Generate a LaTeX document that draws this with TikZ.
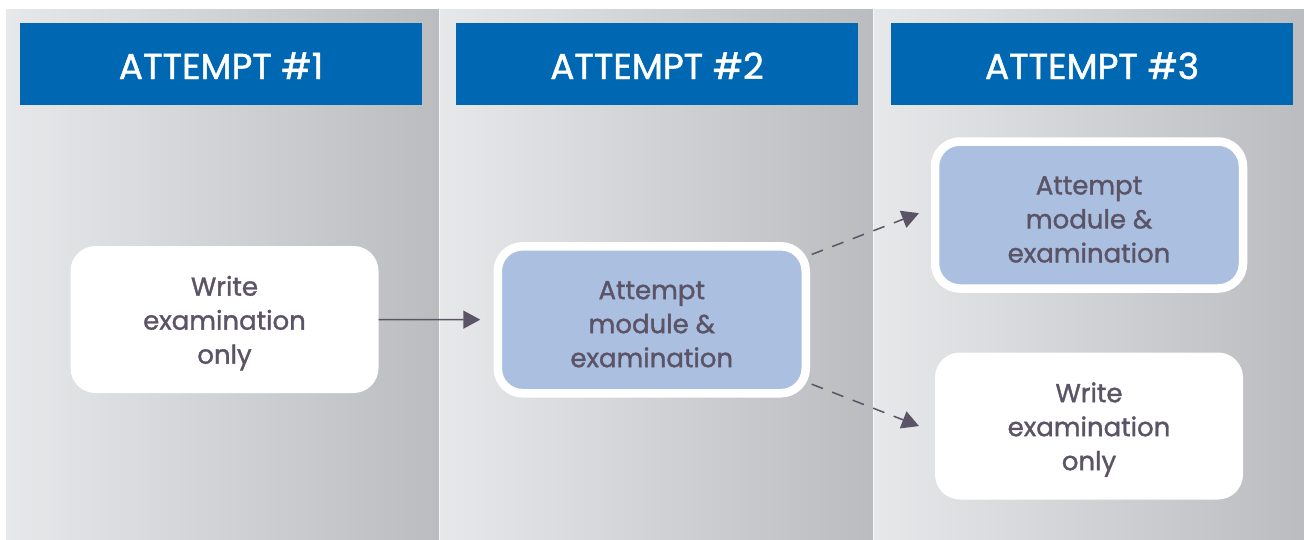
\documentclass[tikz,border=0pt]{standalone}
\usepackage{fontspec}
\setmainfont{Poppins}
\newfontfamily\medfont{Poppins}[FakeBold=1.3]
\usetikzlibrary{arrows.meta}
\definecolor{colLight}{HTML}{E7E8EA}
\definecolor{colDark}{HTML}{BBBCBF}
\definecolor{headBlue}{HTML}{0068B3}
\definecolor{boxBlue}{HTML}{ABBFE1}
\definecolor{inkGray}{HTML}{5B5466}
\newcommand\lift{\rule{0pt}{27pt}}
\tikzset{>={Triangle[length=17pt,width=18pt]}}
\tikzset{
  column/.style={left color=colLight, right color=colDark},
  header/.style={fill=headBlue, text=white, minimum width=402pt, minimum height=82pt,
    inner sep=0pt, text height=30pt, text depth=0pt, font=\medfont\fontsize{36}{40}\selectfont},
  card/.style={rounded corners=25pt, minimum width=308pt, minimum height=147pt, align=center,
    text=inkGray, inner sep=0pt, outer sep=0pt, font=\medfont\fontsize{26}{34}\selectfont},
  plain/.style={card, fill=white},
  chosen/.style={card, fill=boxBlue, draw=white, line width=8.5pt},
  link/.style={draw=inkGray, line width=1.5pt},
}

\begin{document}
\begin{tikzpicture}[x=1pt,y=-1pt]
\useasboundingbox (0,0) rectangle (1304,539);
% columns and headers
\foreach \i/\xa/\xb/\cx in {1/6/439/221, 2/440/873/657, 3/874/1304/1092}{
  \shade[column] (\xa,9) rectangle (\xb,539);
  \node[header] (head\i) at (\cx,64) {ATTEMPT \#\i};
}
% boxes
\node[plain] (write1) at (224.5,319.5) {\lift Write\\examination\\only};
\node[chosen] (attempt2) at (651.75,319.75) {\lift Attempt\\module \&\\examination};
\node[chosen] (attempt3) at (1089,215) {\lift Attempt\\module \&\\examination};
\node[plain] (write3) at (1089,426) {\lift Write\\examination\\only};
% arrows
\draw[link,->,shorten >=17.5pt] (write1) -- (attempt2);
\draw[link,->,dash pattern=on 12pt off 10pt,shorten <=6.4pt,shorten >=17.2pt]
  ([yshift=-10.5pt]attempt2.north east) -- ([yshift=8pt]attempt3.west);
\draw[link,->,dash pattern=on 12pt off 10pt,shorten <=6.4pt,shorten >=17.2pt]
  ([yshift=11.4pt]attempt2.south east) -- ([yshift=-6.3pt]write3.west);
\end{tikzpicture}
\end{document}
